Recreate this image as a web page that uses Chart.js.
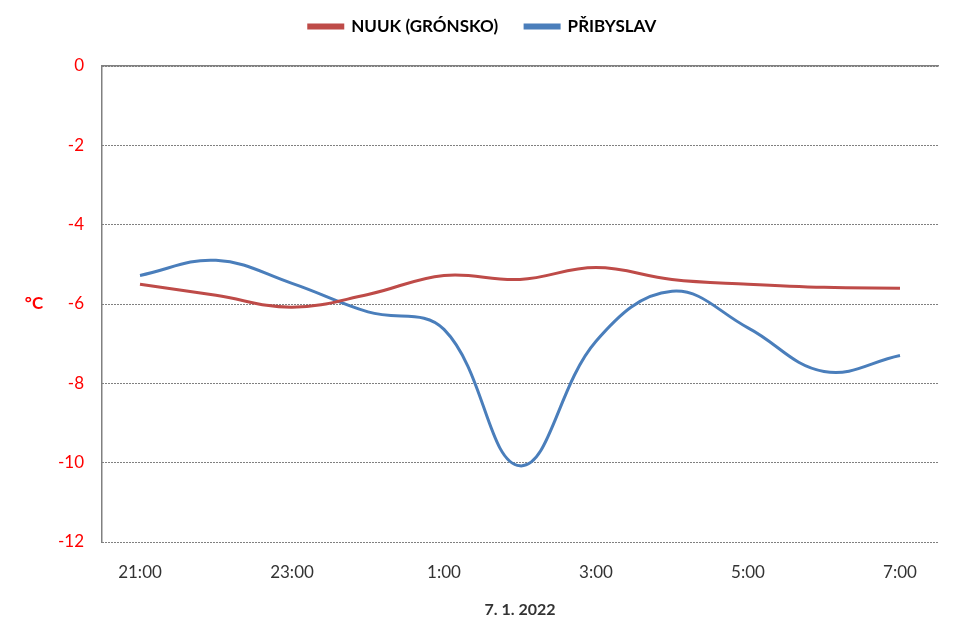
<!DOCTYPE html>
<html><head><meta charset="utf-8">
<script src="https://cdn.jsdelivr.net/npm/chart.js@4/dist/chart.umd.min.js"></script>
<style>html,body{margin:0;padding:0;background:#fff}#wrap{width:960px;height:640px}</style>
</head><body><div id="wrap"><canvas id="c" width="960" height="640"></canvas></div>
<script>
const categories = ["21:00","22:00","23:00","0:00","1:00","2:00","3:00","4:00","5:00","6:00","7:00"];
const nuuk = [-5.5,-5.78,-6.08,-5.76,-5.28,-5.38,-5.08,-5.38,-5.5,-5.58,-5.6];
const pribyslav = [-5.28,-4.9,-5.48,-6.2,-6.64,-10.08,-6.94,-5.68,-6.6,-7.7,-7.3];
const seriesNames = ["NUUK (GRÓNSKO)","PŘIBYSLAV"];
const yTitle = "°C";
const xTitle = "7. 1. 2022";
const FONT = "Lato, 'Open Sans', sans-serif";

const yTitlePlugin = {
  id: 'yTitle',
  afterDraw(chart) {
    const ctx = chart.ctx, a = chart.chartArea;
    ctx.save();
    ctx.fillStyle = '#FF0000';
    ctx.font = 'bold 17px ' + FONT;
    ctx.textAlign = 'center';
    ctx.textBaseline = 'middle';
    ctx.fillText(yTitle, 34, (a.top + a.bottom) / 2);
    ctx.restore();
  }
};

new Chart(document.getElementById('c'), {
  type: 'line',
  data: {
    labels: categories,
    datasets: [
      {label: seriesNames[0], data: nuuk, borderColor: '#BE4B48', backgroundColor: '#BE4B48', borderWidth: 3, pointRadius: 0, tension: 0.4},
      {label: seriesNames[1], data: pribyslav, borderColor: '#4A7EBB', backgroundColor: '#4A7EBB', borderWidth: 3, pointRadius: 0, tension: 0.4}
    ]
  },
  options: {
    responsive: false,
    animation: false,
    layout: {padding: {top: -9, right: 22, left: 27, bottom: 0}},
    plugins: {
      legend: {
        position: 'top',
        labels: {boxWidth: 34, boxHeight: 3, color: '#000', font: {family: FONT, size: 17, weight: 'bold'}, padding: 27}
      },
      tooltip: {enabled: false}
    },
    scales: {
      x: {
        offset: true,
        grid: {display: false, drawTicks: false},
        border: {display: false},
        ticks: {
          color: '#333',
          font: {family: FONT, size: 17},
          padding: 20,
          maxRotation: 0,
          autoSkip: false,
          callback: function(v, i) { return i % 2 === 0 ? categories[i] : ''; }
        },
        title: {display: true, text: xTitle, color: '#333', font: {family: FONT, size: 16, weight: 'bold'}, padding: {top: 4, bottom: 21}},
        afterFit(s){ s.height = 98; }
      },
      x2: {
        position: 'top',
        labels: categories,
        offset: true,
        grid: {display: false, drawTicks: false},
        border: {display: true, color: '#808080', width: 1.5},
        ticks: {display: false},
        afterFit(s){ s.height = 21; }
      },
      y: {
        min: -12, max: 0,
        grid: {color: '#000', drawTicks: false, lineWidth: 1},
        border: {color: '#808080', width: 1.5, dash: [1,2]},
        ticks: {stepSize: 2, color: '#FF0000', font: {family: FONT, size: 17}, padding: 18},
        afterFit(s){ s.width = 75; }
      }
    }
  },
  plugins: [yTitlePlugin]
});
</script>
</body></html>
